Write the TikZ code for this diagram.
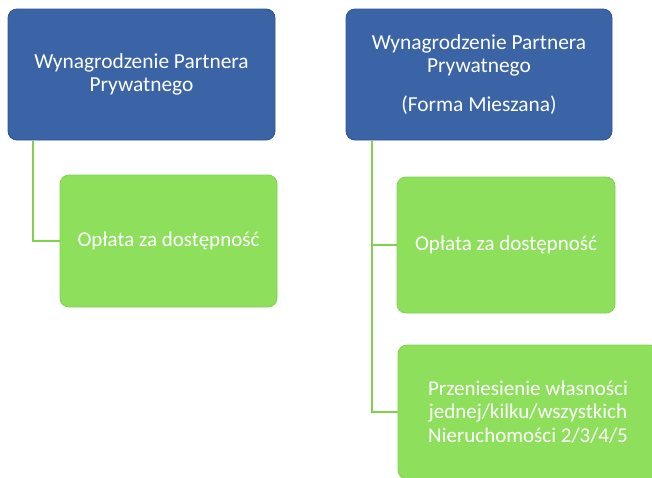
\documentclass[tikz,border=0pt]{standalone}
\usepackage{fontspec}
\setmainfont{Carlito}
\definecolor{headblue}{HTML}{3B64A6}
\definecolor{headedge}{HTML}{2F5290}
\definecolor{leafgreen}{HTML}{8EE05C}
\definecolor{leafedge}{HTML}{7ED24C}
\tikzset{
  headbox/.style={draw=headedge, line width=0.8pt, fill=headblue, rounded corners=9pt, text=white, align=center, font=\fontsize{21.4}{23.8}\selectfont, inner sep=0pt},
  leafbox/.style={draw=leafedge, line width=0.8pt, fill=leafgreen, rounded corners=9pt, text=white, align=center, font=\fontsize{21}{23.5}\selectfont, inner sep=0pt},
  branch/.style={draw=leafedge, line width=2pt}
}
\begin{document}
\begin{tikzpicture}[x=1pt, y=-1pt]
                    \useasboundingbox (0,0) rectangle (652,477);
                    \clip (0,0) rectangle (652,477);
                    \node[headbox, minimum width=267pt, minimum height=131pt] (lhead) at (141.5,74.5) {Wynagrodzenie Partnera\\Prywatnego};
                    \node[headbox, minimum width=266pt, minimum height=131pt] (rhead) at (479,74.5) {Wynagrodzenie Partnera\\Prywatnego\\[15pt](Forma Mieszana)};
                    \node[leafbox, minimum width=217pt, minimum height=132pt] (lfee) at (168.5,241) {Opłata za dostępność};
                    \node[leafbox, minimum width=218pt, minimum height=136pt] (rfee) at (506,245) {Opłata za dostępność};
                    \node[leafbox, minimum width=260pt, minimum height=134pt] (rtrans) at (528,412) {Przeniesienie własności\\jednej/kilku/wszystkich\\Nieruchomości 2/3/4/5};

                    \coordinate (ltrunk) at (33,140.5);
                    \coordinate (rtrunk) at (372,140.5);
                    \draw[branch] (ltrunk) |- (lfee.west);
                    \draw[branch] (rtrunk) |- (rfee.west);
                    \draw[branch] (rtrunk) |- (rtrans.west);
                \end{tikzpicture}
\end{document}
